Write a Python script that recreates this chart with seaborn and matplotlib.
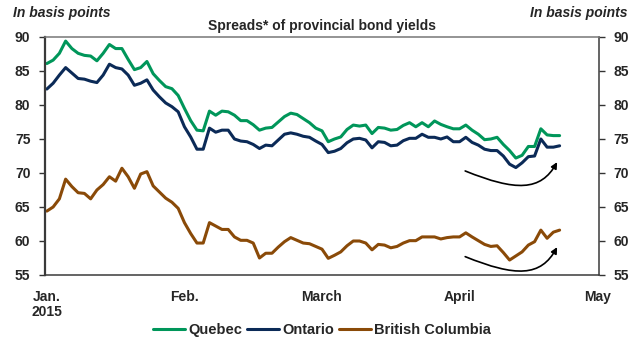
import numpy as np
import pandas as pd
import matplotlib
matplotlib.use("Agg")
import matplotlib.pyplot as plt
from matplotlib.patches import FancyArrowPatch
from matplotlib.path import Path
from matplotlib.lines import Line2D
import seaborn as sns

# Daily spreads, in basis points (business days, Jan. 2 to late April 2015)
quebec = [86.1, 86.6, 87.6, 89.4, 88.3, 87.6, 87.3, 87.2, 86.5, 87.6,
          88.9, 88.3, 88.3, 86.7, 85.2, 85.5, 86.4, 84.6, 83.6, 82.7,
          82.4, 81.4, 79.5, 77.7, 76.3, 76.2, 79.1, 78.5, 79.1, 79.0,
          78.5, 77.7, 77.7, 77.1, 76.3, 76.6, 76.7, 77.5, 78.3, 78.8,
          78.6, 78.0, 77.4, 76.6, 76.2, 74.6, 75.0, 75.3, 76.4, 77.05,
          76.9, 77.05, 75.8, 76.7, 76.6, 76.3, 76.4, 77.0, 77.4, 76.8,
          77.4, 76.8, 77.65, 77.15, 76.8, 76.5, 76.5, 77.05, 76.3, 75.7,
          74.9, 75.0, 75.25, 74.2, 73.3, 72.2, 72.6, 73.9, 73.9, 76.5,
          75.6, 75.5, 75.5]
ontario = [82.35, 83.2, 84.4, 85.5, 84.7, 83.9, 83.8, 83.5, 83.3, 84.4,
           86.0, 85.5, 85.3, 84.4, 82.9, 83.2, 83.7, 82.2, 81.2, 80.3,
           79.75, 79.0, 76.8, 75.3, 73.5, 73.5, 76.6, 76.0, 76.3, 76.3,
           75.0, 74.7, 74.6, 74.2, 73.6, 74.1, 74.0, 74.85, 75.7, 75.9,
           75.7, 75.4, 75.25, 74.7, 74.2, 73.0, 73.2, 73.6, 74.45, 75.0,
           75.1, 74.85, 73.7, 74.6, 74.5, 74.0, 74.1, 74.75, 75.1, 75.1,
           75.7, 75.25, 75.25, 75.0, 75.3, 74.6, 74.6, 75.25, 74.5, 74.1,
           73.5, 73.3, 73.3, 72.5, 71.3, 70.8, 71.5, 72.4, 72.5, 75.0,
           73.8, 73.8, 74.0]
british_columbia = [64.4, 65.0, 66.2, 69.1, 68.0, 67.1, 67.0, 66.2, 67.5, 68.3,
                    69.45, 68.8, 70.7, 69.45, 67.75, 69.85, 70.2, 68.1, 67.2, 66.3,
                    65.7, 64.8, 62.7, 61.1, 59.7, 59.7, 62.7, 62.2, 61.7, 61.7,
                    60.6, 60.1, 60.1, 59.7, 57.5, 58.2, 58.2, 59.1, 59.9, 60.5,
                    60.1, 59.7, 59.6, 59.2, 58.8, 57.45, 57.9, 58.4, 59.3, 60.0,
                    60.0, 59.7, 58.7, 59.5, 59.4, 59.0, 59.2, 59.7, 60.05, 60.05,
                    60.6, 60.6, 60.6, 60.3, 60.5, 60.6, 60.6, 61.2, 60.6, 60.05,
                    59.5, 59.2, 59.3, 58.3, 57.2, 57.8, 58.4, 59.4, 59.9, 61.6,
                    60.4, 61.3, 61.6]

series_names = ["Quebec", "Ontario", "British Columbia"]
series_colors = ["#00965A", "#0B2A57", "#8A4A08"]
month_labels = ["Jan.\n2015", "Feb.", "March", "April", "May"]
month_positions = [0, 22, 44, 66, 88]

n = len(quebec)
df = pd.DataFrame({
    "day": np.tile(np.arange(n), 3),
    "spread": quebec + ontario + british_columbia,
    "province": np.repeat(series_names, n),
})

sns.set_theme(style="white")
plt.rcParams["font.family"] = ["Liberation Sans", "DejaVu Sans"]
plt.rcParams["font.weight"] = "bold"

FS = 10

fig = plt.figure(figsize=(6.35, 3.41), dpi=100)
ax = fig.add_axes([45 / 635, 1 - 275 / 341, 554 / 635, 238 / 341])

sns.lineplot(data=df, x="day", y="spread", hue="province",
             palette=dict(zip(series_names, series_colors)),
             linewidth=2.2, sort=False, legend=False, ax=ax)

ax.set_xlim(-0.3, 88.3)
ax.set_ylim(55, 90)
ax.set_yticks(np.arange(55, 91, 5))
ax.set_xticks(month_positions)
ax.set_xticklabels(month_labels, fontsize=FS, fontweight="bold", linespacing=1.05)
ax.set_xlabel("")
ax.set_ylabel("")

ax.tick_params(axis="y", which="both", left=True, right=True,
               labelleft=True, labelright=True, length=4.5, width=1,
               direction="out", labelsize=FS, pad=6, color="#333333")
ax.tick_params(axis="x", length=0, pad=11, labelsize=FS)
for lab in ax.get_yticklabels():
    lab.set_fontweight("bold")

for side in ["left", "right", "bottom", "top"]:
    ax.spines[side].set_visible(True)
    ax.spines[side].set_color("#3a3a3a")
    ax.spines[side].set_linewidth(1.1)
ax.spines["left"].set_linewidth(1.6)
ax.spines["top"].set_color("#777777")

# Curved arrows marking the recent rebound
def curved_arrow(y0, dy_min, dy_end):
    verts = [(66.9, y0), (75.0, y0 + dy_min), (79.0, y0 + dy_min), (81.6, y0 + dy_end)]
    codes = [Path.MOVETO, Path.CURVE4, Path.CURVE4, Path.CURVE4]
    arrow = FancyArrowPatch(path=Path(verts, codes), arrowstyle="-|>",
                            mutation_scale=9, lw=1.2, color="black")
    ax.add_patch(arrow)

curved_arrow(70.3, -3.0, 1.3)
curved_arrow(57.7, -3.0, 1.4)

fig.text(13 / 635, 1 - 12.5 / 341, "In basis points", fontsize=FS,
         fontweight="bold", fontstyle="italic", ha="left", va="center")
fig.text(628 / 635, 1 - 12.5 / 341, "In basis points", fontsize=FS,
         fontweight="bold", fontstyle="italic", ha="right", va="center")
fig.text(322 / 635, 1 - 26 / 341, "Spreads* of provincial bond yields",
         fontsize=FS, fontweight="bold", ha="center", va="center")

handles = [Line2D([0], [0], color=c, lw=2.2) for c in series_colors]
fig.legend(handles, series_names, loc="center", bbox_to_anchor=(322 / 635, 1 - 330 / 341),
           ncol=3, frameon=False, handlelength=2.2, handletextpad=0.2,
           columnspacing=0.35, prop={"size": 10.5, "weight": "bold"})

fig.savefig("out.png", dpi=100)
